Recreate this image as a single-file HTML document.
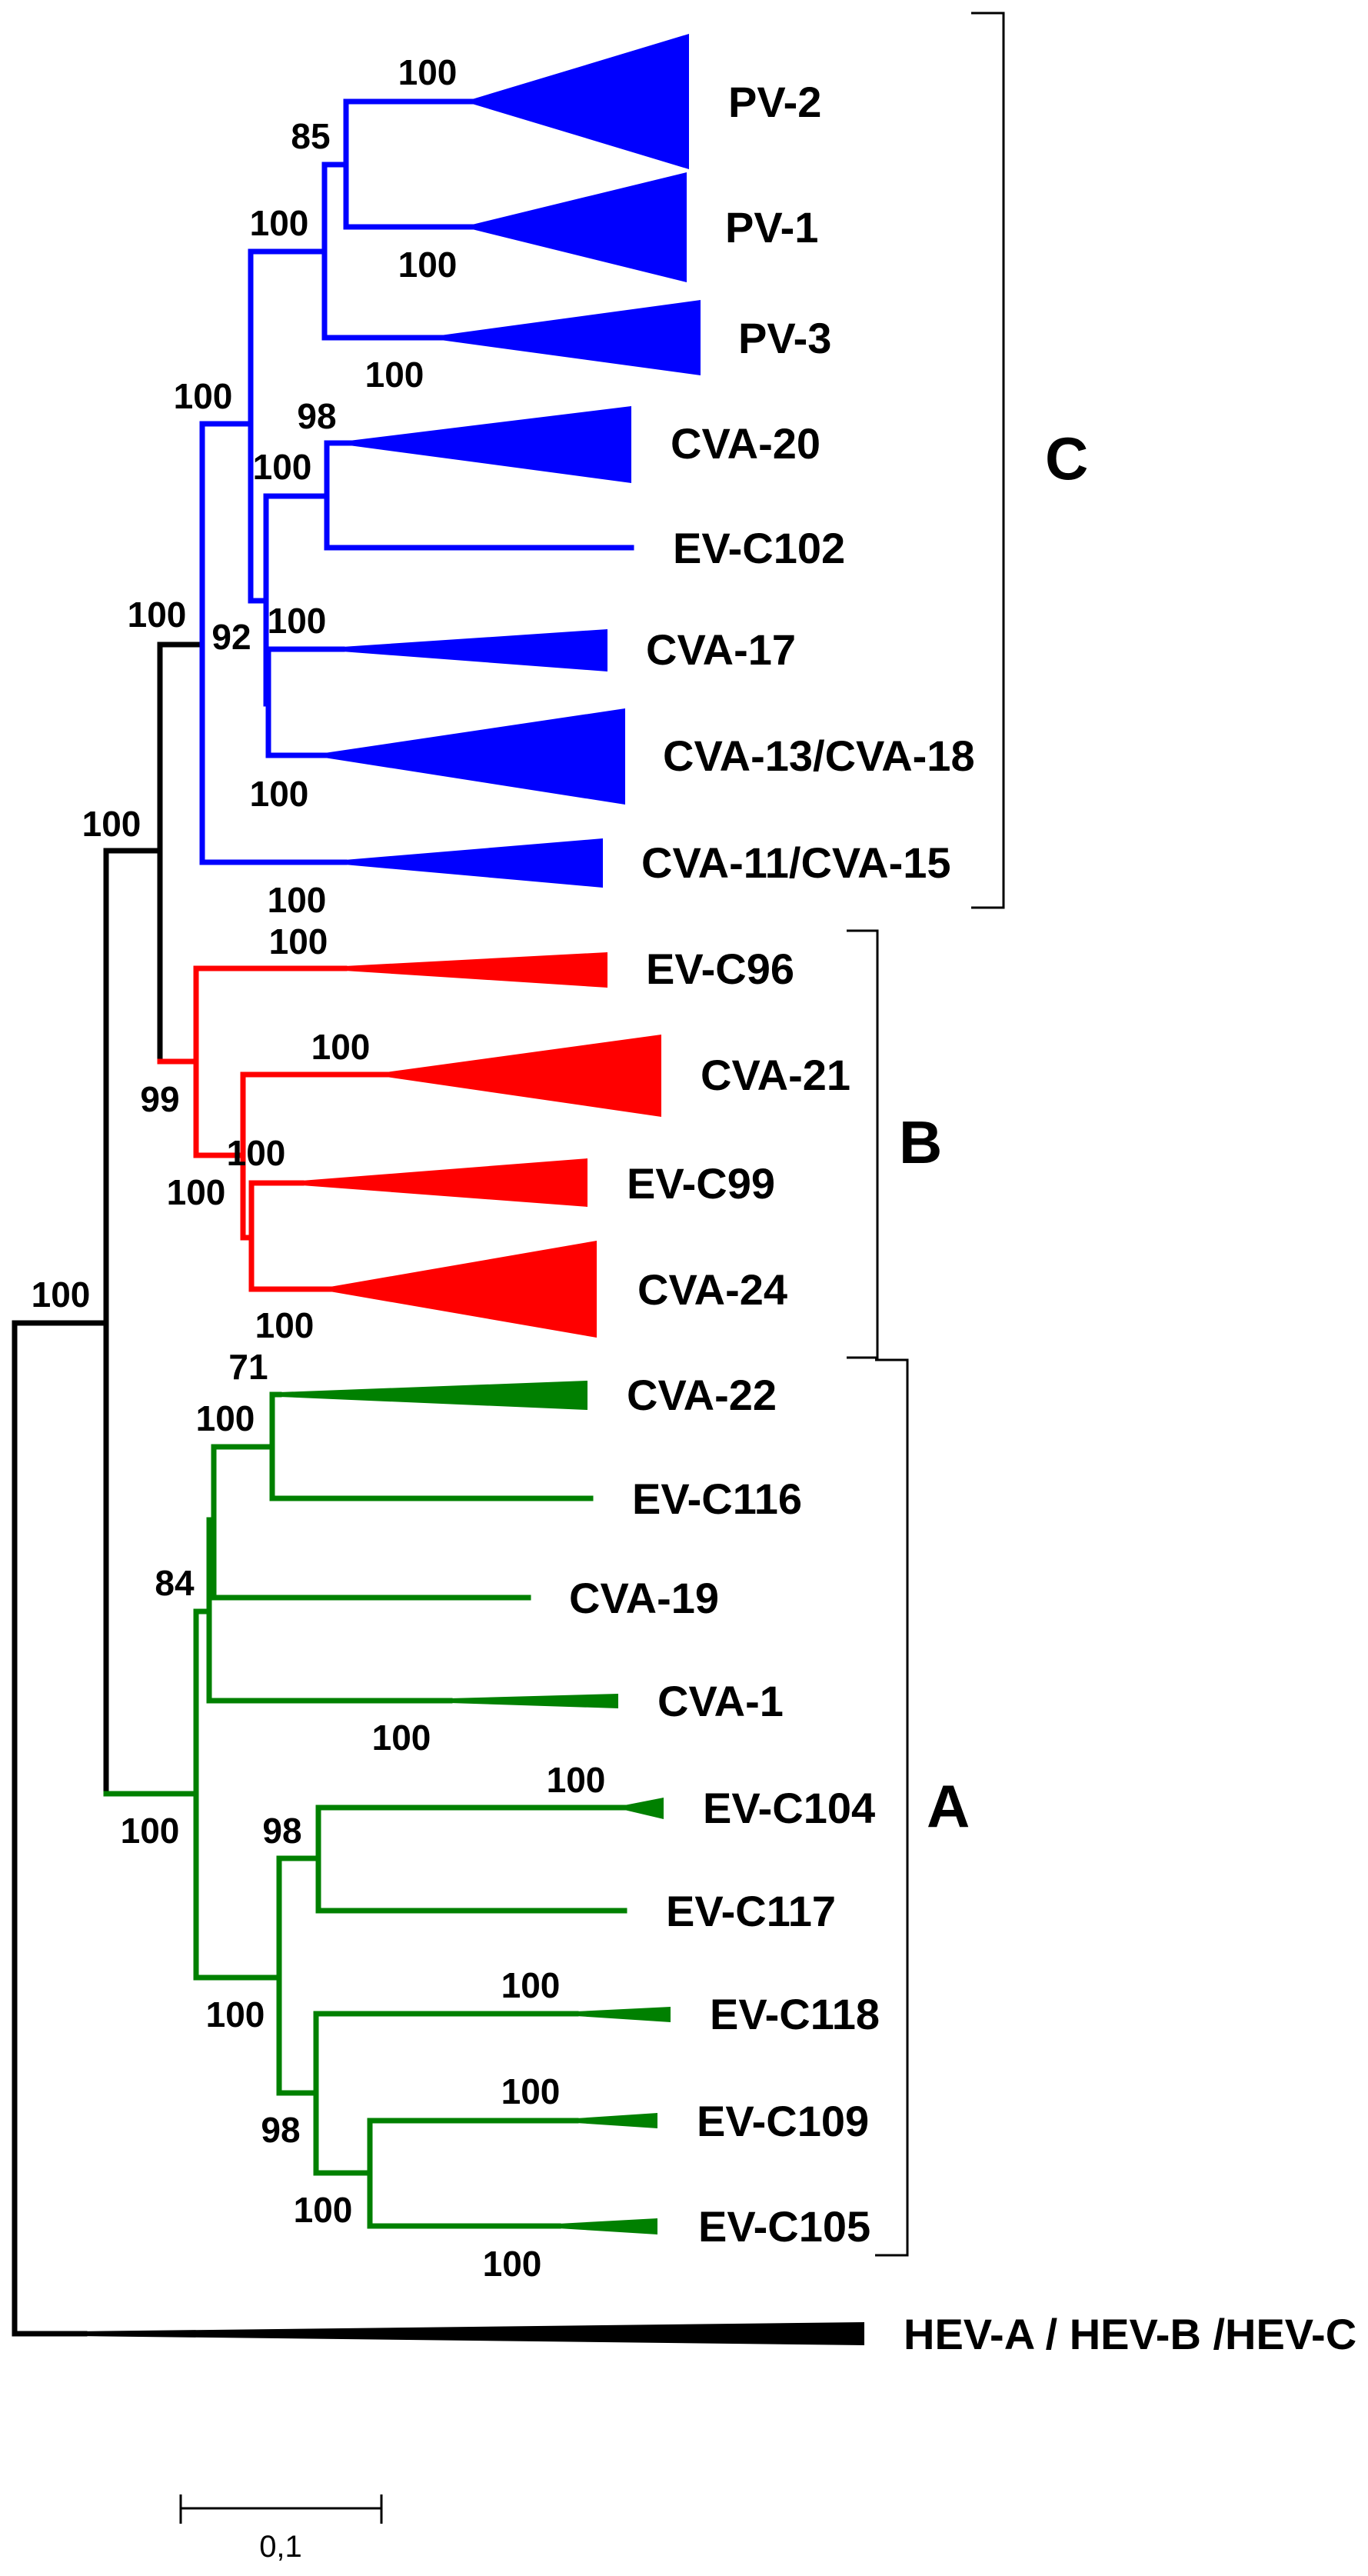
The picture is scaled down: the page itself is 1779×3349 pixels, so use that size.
<!DOCTYPE html>
<html><head><meta charset="utf-8"><title>Phylogenetic tree EV-C</title>
<style>
html,body{margin:0;padding:0;background:#fff;}
svg{display:block;font-family:"Liberation Sans",Arial,sans-serif;}
.bs{font-size:46px;font-weight:bold;fill:#000;}
.tip{font-size:56px;font-weight:bold;fill:#000;}
.grp{font-size:78px;font-weight:bold;fill:#000;}
</style></head>
<body>
<svg id="tree" width="1779" height="3349" viewBox="0 0 1779 3349" xmlns="http://www.w3.org/2000/svg">
<rect width="1779" height="3349" fill="#fff"/>
</svg>
<script>
// Tree branches: [x1,y1,x2,y2,color]
const branches = [
 // black backbone
 [19,1720,19,3034,'#000'],[19,1720,138,1720,'#000'],[19,3034,110,3034,'#000'],[138,1106,138,2332,'#000'],
 [138,1106,208,1106,'#000'],[208,838,208,1380,'#000'],[208,838,263,838,'#000'],
 // C clade (blue)
 [263,551,263,1121,'b'],[263,551,326,551,'b'],[263,1121,448,1121,'b'],
 [326,327,326,781,'b'],[326,327,422,327,'b'],[326,781,346,781,'b'],
 [422,214,422,439,'b'],[422,214,450,214,'b'],[422,439,573,439,'b'],
 [450,132,450,295,'b'],[450,132,614,132,'b'],[450,295,614,295,'b'],
 [346,645,346,915,'b'],[346,645,425,645,'b'],[346,915,349,915,'b'],
 [425,576,425,712,'b'],[425,576,454,576,'b'],[425,712,821,712,'b'],
 [349,844,349,982,'b'],[349,844,445,844,'b'],[349,982,422,982,'b'],
 // B clade (red)
 [208,1380,255,1380,'r'],[255,1259,255,1502,'r'],[255,1259,448,1259,'r'],[255,1502,316,1502,'r'],
 [316,1397,316,1609,'r'],[316,1397,502,1397,'r'],[316,1609,327,1609,'r'],
 [327,1538,327,1676,'r'],[327,1538,392,1538,'r'],[327,1676,429,1676,'r'],
 // A clade (green)
 [138,2332,255,2332,'g'],[255,2095,255,2571,'g'],[255,2095,272,2095,'g'],[255,2571,363,2571,'g'],
 [272,1976,272,2211,'g'],[272,1976,278,1976,'g'],[272,2211,585,2211,'g'],
 [278,1881,278,2077,'g'],[278,1881,354,1881,'g'],[278,2077,687,2077,'g'],
 [354,1813,354,1948,'g'],[354,1813,363,1813,'g'],[354,1948,768,1948,'g'],
 [363,2416,363,2721,'g'],[363,2416,414,2416,'g'],[363,2721,411,2721,'g'],
 [414,2350,414,2484,'g'],[414,2350,812,2350,'g'],[414,2484,812,2484,'g'],
 [411,2618,411,2825,'g'],[411,2618,749,2618,'g'],[411,2825,481,2825,'g'],
 [481,2757,481,2894,'g'],[481,2757,749,2757,'g'],[481,2894,726,2894,'g']
];
// Collapsed clades: [startX, y, rightX, top, bottom, color]
const clades = [
 [614,132,896,44,220,'b'],[614,295,893,224,367,'b'],[573,439,911,390,488,'b'],
 [454,576,821,528,628,'b'],[445,844,790,818,873,'b'],[422,982,813,921,1046,'b'],
 [448,1121,784,1090,1154,'b'],
 [448,1259,790,1238,1284,'r'],[502,1397,860,1345,1452,'r'],[392,1538,764,1506,1569,'r'],[429,1676,776,1613,1739,'r'],
 [363,1813,764,1795,1833,'g'],[585,2211,804,2202,2221,'g'],[812,2350,863,2337,2365,'g'],
 [749,2618,872,2609,2629,'g'],[749,2757,855,2747,2767,'g'],[726,2894,855,2884,2905,'g'],
 [100,3034,1124,3019,3049,'#000']
];
const tipNames = ['PV-2','PV-1','PV-3','CVA-20','EV-C102','CVA-17','CVA-13/CVA-18','CVA-11/CVA-15','EV-C96','CVA-21','EV-C99','CVA-24','CVA-22','EV-C116','CVA-19','CVA-1','EV-C104','EV-C117','EV-C118','EV-C109','EV-C105','HEV-A / HEV-B /HEV-C'];
const tipX = [947,943,960,872,875,840,862,834,840,911,815,829,815,822,740,855,914,866,923,906,908,1175];
const tipY = [132,295,439,576,712,844,982,1121,1259,1397,1538,1676,1813,1948,2077,2211,2350,2484,2618,2757,2894,3034];
const bootValues = ['100','85','100','100','100','100','98','100','100','92','100','100','100','100','100','100','99','100','100','100','100','71','100','84','100','100','100','98','100','100','98','100','100','100'];
const bootX = [556,404,363,556,513,264,412,367,204,301,386,363,145,386,388,443,208,333,255,370,79,323,293,227,522,749,195,367,306,690,365,690,420,666];
const bootY = [93,176,289,343,486,514,540,606,798,827,806,1031,1070,1169,1223,1360,1428,1498,1549,1722,1682,1776,1843,2057,2258,2313,2379,2379,2618,2580,2768,2718,2872,2942];
const colors = {b:'#0000ff', r:'#ff0000', g:'#008000'};
const svg = document.getElementById('tree');
const NS = 'http://www.w3.org/2000/svg';
function col(c){ return colors[c] || c; }
branches.forEach(b => {
  const l = document.createElementNS(NS,'line');
  l.setAttribute('x1',b[0]); l.setAttribute('y1',b[1]); l.setAttribute('x2',b[2]); l.setAttribute('y2',b[3]);
  l.setAttribute('stroke',col(b[4])); l.setAttribute('stroke-width',7); l.setAttribute('stroke-linecap','square');
  
  
  svg.appendChild(l);
});
clades.forEach(c => {
  const p = document.createElementNS(NS,'polygon');
  p.setAttribute('points', c[0]+','+(c[1]-3)+' '+c[2]+','+c[3]+' '+c[2]+','+c[4]+' '+c[0]+','+(c[1]+3));
  p.setAttribute('fill',col(c[5]));
  
  
  svg.appendChild(p);
});
tipNames.forEach((n,i) => {
  const t = document.createElementNS(NS,'text');
  t.setAttribute('x',tipX[i]); t.setAttribute('y',tipY[i]+20);
  t.setAttribute('class','tip'); t.textContent = n;
  
  
  svg.appendChild(t);
});
bootValues.forEach((v,i) => {
  const t = document.createElementNS(NS,'text');
  t.setAttribute('x',bootX[i]); t.setAttribute('y',bootY[i]+17);
  t.setAttribute('text-anchor','middle'); t.setAttribute('class','bs'); t.textContent = v;
  
  
  svg.appendChild(t);
});
// group brackets
const brackets = [[1305,17,1180,1263,'C',1359,595],[1141,1210,1765,1101,'B',1169,1484],[1180,1768,2932,1138,'A',1205,2347]];
brackets.forEach(b => {
  const p = document.createElementNS(NS,'polyline');
  p.setAttribute('points', b[3]+','+b[1]+' '+b[0]+','+b[1]+' '+b[0]+','+b[2]+' '+b[3]+','+b[2]);
  p.setAttribute('fill','none'); p.setAttribute('stroke','#000'); p.setAttribute('stroke-width',3);
  
  
  svg.appendChild(p);
  const t = document.createElementNS(NS,'text');
  t.setAttribute('x',b[5]); t.setAttribute('y',b[6]+28); t.setAttribute('text-anchor','start');
  t.setAttribute('class','grp'); t.textContent = b[4];
  
  
  svg.appendChild(t);
});
</script>
<svg style="position:absolute;left:0;top:0" width="1779" height="3349">
 <line x1="235" y1="3261" x2="496" y2="3261" stroke="#000" stroke-width="3"/>
 <line x1="235" y1="3243" x2="235" y2="3281" stroke="#000" stroke-width="3"/>
 <line x1="496" y1="3243" x2="496" y2="3281" stroke="#000" stroke-width="3"/>
 <text x="365" y="3324" text-anchor="middle" font-family="Liberation Sans, sans-serif" font-size="40" fill="#000">0,1</text>
</svg>
</body></html>
